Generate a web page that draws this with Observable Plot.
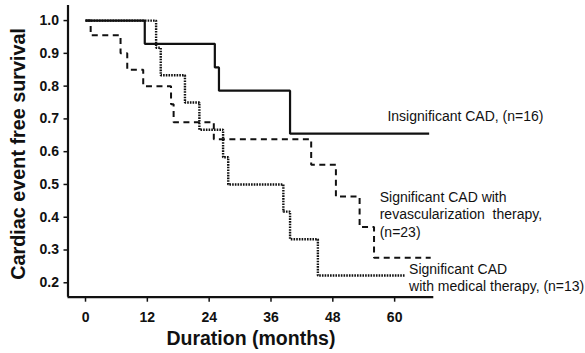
<!DOCTYPE html>
<html>
<head>
<meta charset="utf-8">
<script src="https://cdn.jsdelivr.net/npm/d3@7"></script>
<script src="https://cdn.jsdelivr.net/npm/@observablehq/plot@0.6"></script>
<style>
  html, body { margin: 0; padding: 0; background: #fff; }
  #chart svg { display: block; }
</style>
</head>
<body>
<div id="chart"></div>
<script>
// Kaplan–Meier step data (time in months, survival fraction)
const insigT = [0, 11.5, 25.1, 25.9, 39.7, 66.7];
const insigS = [1.0, 0.929, 0.857, 0.786, 0.655, 0.655];

const revT = [0, 1.0, 6.8, 8.1, 11.2, 16.6, 17.1, 24.9, 43.8, 48.6, 53.2, 56.0, 67.0];
const revS = [1.0, 0.955, 0.9, 0.85, 0.8, 0.745, 0.69, 0.638, 0.56, 0.463, 0.37, 0.276, 0.276];

const medT = [0, 13.7, 14.6, 19.3, 22.1, 26.7, 27.7, 38.4, 39.7, 45.1, 62.0];
const medS = [1.0, 0.917, 0.833, 0.75, 0.667, 0.583, 0.5, 0.417, 0.333, 0.222, 0.222];

const xTicks = [0, 12, 24, 36, 48, 60];
const yTicks = [0.2, 0.3, 0.4, 0.5, 0.6, 0.7, 0.8, 0.9, 1.0];

const yLabel = "Cardiac event free survival";
const xLabel = "Duration (months)";

// annotation labels: [text, x (months), y (survival)]
const labelText = [
  "Insignificant CAD, (n=16)",
  "Significant CAD with",
  "revascularization  therapy,",
  "(n=23)",
  "Significant CAD",
  "with medical therapy, (n=13)"
];
const labelX = [58.6, 57.1, 57.1, 57.1, 62.8, 62.8];
const labelY = [0.707, 0.461, 0.408, 0.352, 0.239, 0.188];

const toRows = (T, S) => T.map((t, i) => ({t, s: S[i]}));
const insig = toRows(insigT, insigS);
const rev = toRows(revT, revS);
const med = toRows(medT, medS);
const labels = labelText.map((text, i) => ({text, x: labelX[i], y: labelY[i]}));

const xDomain = [-3.4, 67.6];
const yDomain = [0.156, 1.046];

const ink = "#111";

const chart = Plot.plot({
  width: 585,
  height: 353,
  marginLeft: 67.5,
  marginRight: 151.7,
  marginTop: 5,
  marginBottom: 56.3,
  style: {fontFamily: "'Liberation Sans', Arial, sans-serif", color: ink, background: "#fff"},
  x: {domain: xDomain},
  y: {domain: yDomain},
  marks: [
    Plot.axisX({ticks: xTicks, tickSize: 5, tickPadding: 10, fontSize: 14, fontWeight: "bold", strokeWidth: 1.5, label: null}),
    Plot.axisY({ticks: yTicks, tickSize: 4, tickPadding: 5, fontSize: 14, fontWeight: "bold", strokeWidth: 1.5, tickFormat: d3.format(".1f"), label: null}),
    Plot.ruleX([xDomain[0]], {stroke: ink, strokeWidth: 2.2}),
    Plot.ruleY([yDomain[0]], {stroke: ink, strokeWidth: 2.2}),
    Plot.line(med, {x: "t", y: "s", curve: "step-after", stroke: ink, strokeWidth: 2.4, strokeDasharray: "1.6,1.1", strokeLinecap: "butt", strokeLinejoin: "miter"}),
    Plot.line(rev, {x: "t", y: "s", curve: "step-after", stroke: ink, strokeWidth: 2, strokeDasharray: "6,4.5", strokeLinecap: "butt", strokeLinejoin: "miter"}),
    Plot.line(insig, {x: "t", y: "s", curve: "step-after", stroke: ink, strokeWidth: 2.2, strokeLinecap: "butt", strokeLinejoin: "miter"}),
    Plot.text(labels, {x: "x", y: "y", text: "text", textAnchor: "start", lineAnchor: "middle", fontSize: 14, fill: ink}),
    Plot.text([yLabel], {frameAnchor: "left", textAnchor: "middle", lineAnchor: "middle", rotate: -90, dx: -49.5, dy: 2.5, fontSize: 19.8, fontWeight: "bold", fill: ink}),
    Plot.text([xLabel], {frameAnchor: "bottom", textAnchor: "middle", lineAnchor: "middle", dy: 42, fontSize: 19.5, fontWeight: "bold", fill: ink})
  ]
});
document.getElementById("chart").appendChild(chart);
</script>
</body>
</html>
